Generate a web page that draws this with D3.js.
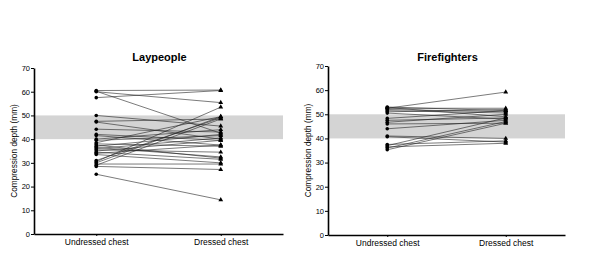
<!DOCTYPE html>
<html>
<head>
<meta charset="utf-8">
<script src="https://cdn.jsdelivr.net/npm/d3@7"></script>
<style>
  body { margin: 0; background: #fff; }
  svg { font-family: "Liberation Sans", Arial, sans-serif; }
</style>
</head>
<body>
<svg id="chart" width="600" height="278"></svg>
<script>
// categories and ticks
const conditions = ["Undressed chest", "Dressed chest"]
const yTicks = [0, 10, 20, 30, 40, 50, 60, 70]
const targetBand = [40, 50]

// laypeople: depth undressed -> dressed (mm)
const layUndressed = [60.5, 60.0, 57.5, 60.2, 50.0, 47.5, 47.2, 44.2, 42.0, 41.5, 40.0, 39.5, 38.5, 38.0, 37.0,
    36.5, 36.0, 35.5, 35.0, 34.5, 34.0, 33.5, 31.0, 30.5, 30.0, 29.5, 29.0, 28.5, 25.2, 37.5]
const layDressed = [60.7, 55.4, 60.5, 42.5, 45.5, 48.5, 40.0, 43.0, 39.5, 37.5, 44.0, 41.5, 49.5, 37.0, 42.0,
    32.5, 40.5, 34.5, 39.5, 31.5, 37.5, 30.0, 49.0, 53.5, 49.5, 29.5, 48.5, 27.2, 14.4, 32.0]

// firefighters
const fireUndressed = [52.5, 53.0, 52.5, 52.0, 51.5, 51.0, 50.5, 48.3, 47.5, 46.7, 46.0, 44.0, 41.0, 40.7,
    37.5, 37.0, 36.5, 36.0, 35.3, 52.8]
const fireDressed = [59.2, 51.5, 52.5, 51.0, 50.5, 52.0, 48.0, 51.5, 48.5, 50.0, 46.3, 47.5, 40.0, 38.5,
    39.0, 48.5, 38.0, 47.0, 46.3, 49.0]

const svg = d3.select("#chart")

function drawPanel(title, undressed, dressed, box) {
    const g = svg.append("g")

    const x = d3.scalePoint()
        .domain(conditions)
        .range([box.left, box.right])
        .padding(0.5)

    const y = d3.scaleLinear()
        .domain([0, 70])
        .range([box.bottom, box.top])

    // grey target band 40-50 mm
    g.append("rect")
        .attr("x", box.left)
        .attr("y", y(targetBand[1]))
        .attr("width", box.right - box.left)
        .attr("height", y(targetBand[0]) - y(targetBand[1]))
        .attr("fill", "#d4d4d4")

    const pairs = undressed.map((u, i) => ({ u: u, d: dressed[i] }))

    g.selectAll(".pair")
        .data(pairs)
        .enter()
        .append("line")
        .attr("class", "pair")
        .attr("x1", x(conditions[0]))
        .attr("x2", x(conditions[1]))
        .attr("y1", d => y(d.u))
        .attr("y2", d => y(d.d))
        .attr("stroke", "#222")
        .attr("stroke-width", 0.6)

    g.selectAll(".dot")
        .data(undressed)
        .enter()
        .append("circle")
        .attr("cx", x(conditions[0]))
        .attr("cy", d => y(d))
        .attr("r", 1.8)
        .attr("fill", "#000")

    const tri = d3.symbol().type(d3.symbolTriangle).size(10)
    g.selectAll(".tri")
        .data(dressed)
        .enter()
        .append("path")
        .attr("d", tri)
        .attr("transform", d => `translate(${x(conditions[1])},${y(d)})`)
        .attr("fill", "#000")

    // axes
    const yAxis = d3.axisLeft(y).tickValues(yTicks).tickSize(3).tickSizeOuter(0).tickPadding(1)
    const ya = g.append("g")
        .attr("transform", `translate(${box.left},0)`)
        .call(yAxis)
    ya.select(".domain").attr("stroke-width", 1.6)
    ya.selectAll(".tick line").attr("stroke-width", 1)
    ya.selectAll("text").attr("font-size", 7.5).attr("fill", "#000")

    const xAxis = d3.axisBottom(x).tickSize(2).tickSizeOuter(0).tickPadding(3)
    const xa = g.append("g")
        .attr("transform", `translate(0,${box.bottom})`)
        .call(xAxis)
    xa.select(".domain").attr("stroke-width", 1.6)
    xa.selectAll("text").attr("font-size", 8.5).attr("fill", "#000")

    g.append("text")
        .attr("transform", `translate(${box.left - 17},${(box.top + box.bottom) / 2}) rotate(-90)`)
        .attr("text-anchor", "middle")
        .attr("font-size", 8.3)
        .attr("fill", "#000")
        .text("Compression depth (mm)")

    g.append("text")
        .attr("x", (box.left + box.right) / 2 + 1)
        .attr("y", 61)
        .attr("text-anchor", "middle")
        .attr("font-size", 11)
        .attr("font-weight", "bold")
        .text(title)
}

drawPanel("Laypeople", layUndressed, layDressed, { left: 34, right: 283, top: 68, bottom: 234 })
drawPanel("Firefighters", fireUndressed, fireDressed, { left: 328, right: 565, top: 66, bottom: 235 })
</script>
</body>
</html>
